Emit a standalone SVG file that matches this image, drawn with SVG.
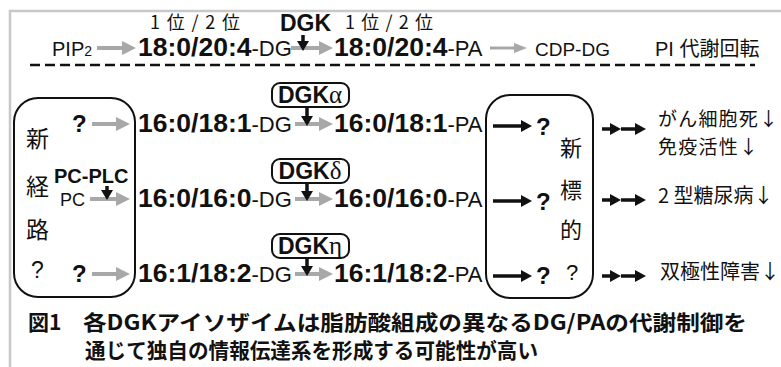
<svg xmlns="http://www.w3.org/2000/svg" width="781" height="367" viewBox="0 0 781 367">
<defs>
<style>
.lat{font-family:"Liberation Sans",Arial,sans-serif;fill:#111}
.jp{font-family:"Noto Sans CJK JP","Liberation Sans",sans-serif;fill:#111}
.b{font-weight:bold}
.num{font-family:"Liberation Sans",Arial,sans-serif;font-weight:bold;font-size:26.5px;fill:#111}
.suf{font-weight:normal;font-size:22px}
.gr{font-family:"Liberation Serif","Times New Roman",serif;font-weight:normal;font-size:25px}
.ga{stroke:#a8a8a8;stroke-width:4;fill:none}
.ga2{stroke:#a8a8a8;stroke-width:3;fill:none}
.ba{stroke:#111;stroke-width:3.5;fill:none}
.box{fill:#fff;stroke:#111;stroke-width:2}
</style>
<marker id="hg" markerUnits="userSpaceOnUse" markerWidth="16" markerHeight="16" refX="1" refY="7" orient="auto"><path d="M0,0 L14,7 L0,14 z" fill="#a8a8a8"/></marker>
<marker id="hg2" markerUnits="userSpaceOnUse" markerWidth="16" markerHeight="16" refX="1" refY="5" orient="auto"><path d="M0,0 L13,5 L0,10 z" fill="#a8a8a8"/></marker>
<marker id="hb" markerUnits="userSpaceOnUse" markerWidth="16" markerHeight="16" refX="1" refY="6" orient="auto"><path d="M0,0 L11,6 L0,12 z" fill="#111"/></marker>
<marker id="hd" markerUnits="userSpaceOnUse" markerWidth="16" markerHeight="16" refX="1" refY="6" orient="auto"><path d="M0,0 L10,6 L0,12 z" fill="#111"/></marker>
</defs>
<rect width="781" height="367" fill="#fff"/>
<path d="M10,367 V11 H781" fill="none" stroke="#c8c8c8" stroke-width="2.5"/>

<g id="header">
<text class="jp" x="150" y="29" font-size="18" textLength="90">1 位 / 2 位</text>
<text class="jp" x="345" y="29" font-size="18" textLength="88">1 位 / 2 位</text>
<text class="lat b" x="280" y="31" font-size="23">DGK</text>
</g>

<g id="row1">
<text class="lat" x="52" y="56" font-size="20" fill="#333">PIP<tspan font-size="14">2</tspan></text>
<text class="num" x="138" y="56">18:0/20:4<tspan class="suf">-DG</tspan></text>
<text class="num" x="334" y="56">18:0/20:4<tspan class="suf">-PA</tspan></text>
<text class="lat" x="535" y="56" font-size="19">CDP-DG</text>
<text class="lat" x="655" y="56" font-size="20">PI <tspan class="jp">代謝回転</tspan></text>
</g>
<line x1="30" y1="65" x2="755" y2="65" stroke="#111" stroke-width="2.5" stroke-dasharray="10 5"/>

<g id="newpath">
<rect class="box" x="14" y="98" width="121" height="199" rx="24"/>
<text class="jp" x="26" y="147" font-size="23">新</text>
<text class="jp" x="26" y="195" font-size="23">経</text>
<text class="jp" x="26" y="238" font-size="23">路</text>
<text class="lat" x="31" y="278" font-size="23">?</text>
<text class="lat b" x="72" y="132" font-size="24">?</text>
<text class="lat b" x="54" y="183" font-size="20">PC-PLC</text>
<text class="lat" x="60" y="206" font-size="18" fill="#333">PC</text>
<text class="lat b" x="72" y="282" font-size="24">?</text>
</g>

<g id="dgka">
<rect class="box" x="272" y="83" width="77" height="24" rx="8"/>
<text class="lat b" x="310" y="103" font-size="23" text-anchor="middle">DGK<tspan class="gr">α</tspan></text>
</g>
<g id="dgkd">
<rect class="box" x="272" y="159" width="77" height="24" rx="8"/>
<text class="lat b" x="310" y="179" font-size="23" text-anchor="middle">DGK<tspan class="gr">δ</tspan></text>
</g>
<g id="dgkh">
<rect class="box" x="272" y="234" width="77" height="24" rx="8"/>
<text class="lat b" x="310" y="254" font-size="23" text-anchor="middle">DGK<tspan class="gr">η</tspan></text>
</g>

<g id="species">
<text class="num" x="138" y="132">16:0/18:1<tspan class="suf">-DG</tspan></text>
<text class="num" x="334" y="132">16:0/18:1<tspan class="suf">-PA</tspan></text>
<text class="num" x="138" y="207">16:0/16:0<tspan class="suf">-DG</tspan></text>
<text class="num" x="334" y="207">16:0/16:0<tspan class="suf">-PA</tspan></text>
<text class="num" x="138" y="282">16:1/18:2<tspan class="suf">-DG</tspan></text>
<text class="num" x="334" y="282">16:1/18:2<tspan class="suf">-PA</tspan></text>
</g>

<g id="newtarget">
<rect class="box" x="486" y="95" width="107" height="203" rx="24"/>
<text class="lat b" x="536" y="135" font-size="24">?</text>
<text class="lat b" x="536" y="210" font-size="24">?</text>
<text class="lat b" x="536" y="284" font-size="24">?</text>
<text class="jp" x="560" y="156" font-size="22">新</text>
<text class="jp" x="560" y="198" font-size="22">標</text>
<text class="jp" x="560" y="238" font-size="22">的</text>
<text class="lat" x="566" y="280" font-size="22">?</text>
</g>

<g id="outcomes">
<text class="jp" x="658" y="126" font-size="19" textLength="120">がん細胞死↓</text>
<text class="jp" x="658" y="154" font-size="19" textLength="100">免疫活性↓</text>
<text class="jp" x="658" y="203" font-size="20">2 型糖尿病↓</text>
<text class="jp" x="660" y="279" font-size="20">双極性障害↓</text>
</g>

<g id="connectors">
<line class="ga" x1="97" y1="48" x2="123" y2="48" marker-end="url(#hg)"/>
<line class="ga" x1="291" y1="48" x2="320" y2="48" marker-end="url(#hg)"/>
<line class="ga2" x1="490" y1="48" x2="515" y2="48" marker-end="url(#hg2)"/>
<line class="ba" x1="303" y1="35" x2="303" y2="42" marker-end="url(#hd)"/>

<line class="ga" x1="92" y1="124" x2="117" y2="124" marker-end="url(#hg)"/>
<line class="ga" x1="90" y1="199" x2="117" y2="199" marker-end="url(#hg)"/>
<line class="ga" x1="92" y1="274" x2="117" y2="274" marker-end="url(#hg)"/>
<line class="ba" x1="107" y1="186" x2="107" y2="191" marker-end="url(#hd)"/>

<line class="ga" x1="295" y1="124" x2="320" y2="124" marker-end="url(#hg)"/>
<line class="ga" x1="295" y1="199" x2="320" y2="199" marker-end="url(#hg)"/>
<line class="ga" x1="295" y1="274" x2="320" y2="274" marker-end="url(#hg)"/>
<line class="ba" x1="307" y1="107" x2="307" y2="117" marker-end="url(#hd)"/>
<line class="ba" x1="307" y1="183" x2="307" y2="192" marker-end="url(#hd)"/>
<line class="ba" x1="307" y1="258" x2="307" y2="267" marker-end="url(#hd)"/>

<line class="ba" x1="493" y1="126" x2="522" y2="126" marker-end="url(#hb)"/>
<line class="ba" x1="493" y1="201" x2="522" y2="201" marker-end="url(#hb)"/>
<line class="ba" x1="493" y1="276" x2="522" y2="276" marker-end="url(#hb)"/>

<line class="ba" x1="602" y1="129" x2="611" y2="129" marker-end="url(#hb)"/>
<line class="ba" x1="621" y1="129" x2="636" y2="129" marker-end="url(#hb)"/>
<line class="ba" x1="602" y1="200" x2="611" y2="200" marker-end="url(#hb)"/>
<line class="ba" x1="621" y1="200" x2="636" y2="200" marker-end="url(#hb)"/>
<line class="ba" x1="602" y1="276" x2="611" y2="276" marker-end="url(#hb)"/>
<line class="ba" x1="621" y1="276" x2="636" y2="276" marker-end="url(#hb)"/>
</g>

<g id="caption">
<text class="jp b" x="28" y="330" font-size="21">図1</text>
<text class="jp b" x="83" y="330" font-size="21" textLength="664" lengthAdjust="spacingAndGlyphs">各DGKアイソザイムは脂肪酸組成の異なるDG/PAの代謝制御を</text>
<text class="jp b" x="85" y="358" font-size="21" textLength="453" lengthAdjust="spacingAndGlyphs">通じて独自の情報伝達系を形成する可能性が高い</text>
</g>
</svg>
